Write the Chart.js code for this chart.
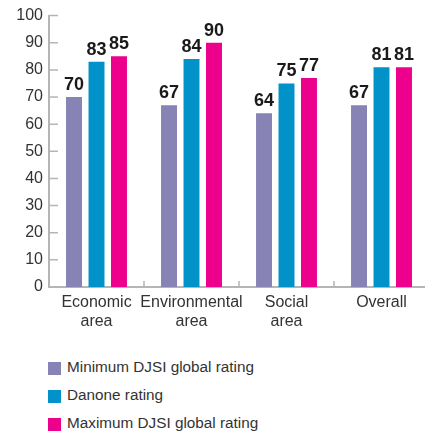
<!DOCTYPE html>
<html>
<head>
<meta charset="utf-8">
<script src="https://cdn.jsdelivr.net/npm/chart.js@4"></script>
<style>
  html, body { margin: 0; padding: 0; background: #fff; overflow: hidden; width: 425px; height: 432px; }
  #wrap { position: absolute; left: 0; top: 0; width: 429px; height: 340px; }
  #legend { position: absolute; left: 48px; top: 358px; font: 15.3px "Liberation Sans", Arial, sans-serif; color: #333; }
  #legend div { height: 28px; display: flex; align-items: flex-start; }
  #legend span.box { display: inline-block; width: 13px; height: 13px; margin: 4px 6px 0 0; }
</style>
</head>
<body>
<div id="wrap"><canvas id="chart"></canvas></div>
<div id="legend"></div>
<script>
const categories = [['Economic', 'area'], ['Environmental', 'area'], ['Social', 'area'], 'Overall'];
const minRating = [70, 67, 64, 67];
const danoneRating = [83, 84, 75, 81];
const maxRating = [85, 90, 77, 81];
const seriesNames = ['Minimum DJSI global rating', 'Danone rating', 'Maximum DJSI global rating'];
const seriesColors = ['#8783b5', '#0092c8', '#ec008c'];
const yTicks = [0, 10, 20, 30, 40, 50, 60, 70, 80, 90, 100];

const axisGray = '#b5b5b5';
const font = '"Liberation Sans", Arial, sans-serif';

// value labels on top of the bars
const valueLabels = {
    id: 'valueLabels',
    afterDatasetsDraw(chart) {
        const ctx = chart.ctx;
        ctx.save();
        ctx.font = 'bold 18px ' + font;
        ctx.fillStyle = '#1a1a1a';
        ctx.textAlign = 'center';
        ctx.textBaseline = 'bottom';
        chart.data.datasets.forEach((ds, i) => {
            chart.getDatasetMeta(i).data.forEach((bar, j) => {
                ctx.fillText(ds.data[j], bar.x, bar.y - 3);
            });
        });
        ctx.restore();
    }
};

// short tick marks pointing into the plot
const innerTicks = {
    id: 'innerTicks',
    afterDraw(chart) {
        const ctx = chart.ctx;
        const x = chart.scales.x, y = chart.scales.y;
        ctx.save();
        ctx.strokeStyle = axisGray;
        ctx.lineWidth = 1.5;
        ctx.beginPath();
        yTicks.forEach(v => {
            const py = y.getPixelForValue(v);
            ctx.moveTo(x.left, py);
            ctx.lineTo(x.left + 9, py);
        });
        for (let i = 1; i < categories.length; i++) {
            const px = (x.getPixelForValue(i - 1) + x.getPixelForValue(i)) / 2;
            ctx.moveTo(px, y.bottom);
            ctx.lineTo(px, y.bottom - 6);
        }
        ctx.stroke();
        ctx.restore();
    }
};

const datasets = [minRating, danoneRating, maxRating].map((d, i) => ({
    label: seriesNames[i],
    data: d,
    backgroundColor: seriesColors[i],
    categoryPercentage: 0.71,
    barPercentage: 0.71
}));

new Chart(document.getElementById('chart').getContext('2d'), {
    type: 'bar',
    data: { labels: categories, datasets: datasets },
    options: {
        responsive: true,
        maintainAspectRatio: false,
        animation: false,
        layout: { padding: { top: 15, left: 0, right: 0, bottom: 0 } },
        plugins: { legend: { display: false }, tooltip: { enabled: false } },
        scales: {
            x: {
                grid: { display: false, drawTicks: false },
                border: { color: axisGray, width: 2 },
                ticks: { color: '#333', padding: 6, autoSkip: false, font: { family: font, size: 16, lineHeight: 1.2 }, maxRotation: 0 },
                afterFit(scale) { scale.height = 53; }
            },
            y: {
                min: 0, max: 100,
                grid: { display: false, drawTicks: false },
                border: { color: axisGray, width: 2 },
                ticks: { stepSize: 10, color: '#333', padding: 6, font: { family: font, size: 16 } },
                afterFit(scale) { scale.width = 49; }
            }
        }
    },
    plugins: [valueLabels, innerTicks]
});

// legend as html
const legend = document.getElementById('legend');
seriesNames.forEach((name, i) => {
    const row = document.createElement('div');
    const box = document.createElement('span');
    box.className = 'box';
    box.style.background = seriesColors[i];
    row.appendChild(box);
    row.appendChild(document.createTextNode(name));
    legend.appendChild(row);
});
</script>
</body>
</html>
